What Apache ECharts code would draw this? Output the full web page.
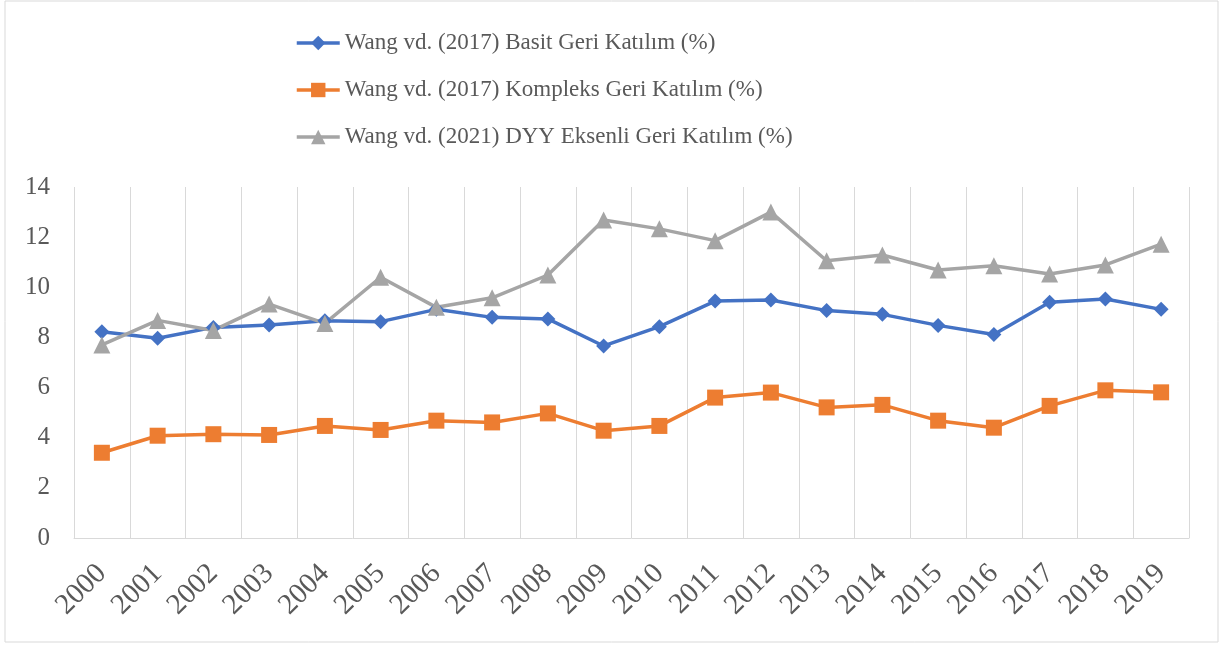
<!DOCTYPE html>
<html>
<head>
<meta charset="utf-8">
<script src="https://cdn.jsdelivr.net/npm/echarts@6/dist/echarts.min.js"></script>
<style>
    html, body {margin: 0; padding: 0; background: #fff;}
    #echart1 {width: 1221px; height: 645px;}
</style>
</head>
<body>
<div id="echart1"></div>
<script>
var years = ['2000', '2001', '2002', '2003', '2004', '2005', '2006', '2007', '2008', '2009',
    '2010', '2011', '2012', '2013', '2014', '2015', '2016', '2017', '2018', '2019'];
var basit = [8.23, 7.97, 8.40, 8.50, 8.67, 8.63, 9.12, 8.80, 8.74, 7.66,
    8.43, 9.45, 9.49, 9.07, 8.92, 8.48, 8.12, 9.40, 9.53, 9.12];
var kompleks = [3.40, 4.08, 4.14, 4.11, 4.47, 4.31, 4.68, 4.61, 4.97, 4.28,
    4.47, 5.60, 5.80, 5.21, 5.31, 4.68, 4.40, 5.27, 5.89, 5.81];
var dyy = [7.70, 8.68, 8.28, 9.33, 8.56, 10.40, 9.20, 9.58, 10.49, 12.68,
    12.33, 11.86, 13.00, 11.06, 11.29, 10.69, 10.86, 10.53, 10.89, 11.72];
var names = ['Wang vd. (2017) Basit Geri Katılım (%)',
    'Wang vd. (2017) Kompleks Geri Katılım (%)',
    'Wang vd. (2021) DYY Eksenli Geri Katılım (%)'];
var colors = ['#4472c4', '#ed7d31', '#a5a5a5'];

echart1();

function echart1() {
    var myChart = echarts.init(document.getElementById('echart1'));    //初始化图表
    var font = 'Liberation Serif';
    var option = {
        animation: false,
        color: colors,
        textStyle: {fontFamily: font},
        graphic: [{
            type: 'rect',
            shape: {x: 5, y: 1, width: 1213, height: 641},
            style: {fill: 'none', stroke: '#d9d9d9', lineWidth: 1},
            silent: true
        }],
        legend: {
            orient: 'vertical',
            left: 290,
            top: 23,
            itemWidth: 43,
            itemHeight: 18,
            itemGap: 17,
            data: names,
            lineStyle: {width: 3.5},   //图例线条粗细
            textStyle: {
                fontFamily: font,
                fontSize: 23,
                color: '#595959',
                lineHeight: 30
            }
        },
        grid: {
            left: 74,
            right: 32,
            top: 187,
            bottom: 107
        },
        xAxis: {
            type: 'category',
            data: years,
            boundaryGap: true,
            axisLine: {lineStyle: {color: '#d9d9d9', width: 1}},
            axisTick: {show: false},
            splitLine: {show: true, lineStyle: {color: '#d9d9d9', width: 1}},
            axisLabel: {
                rotate: 45,
                interval: 0,
                margin: 31,
                fontFamily: font,
                fontSize: 29,
                color: '#595959'
            }
        },
        yAxis: {
            type: 'value',
            min: 0,
            max: 14,
            interval: 2,
            axisLine: {show: false},
            axisTick: {show: false},
            splitLine: {show: false},
            axisLabel: {
                margin: 24,
                fontFamily: font,
                fontSize: 25,
                color: '#595959'
            }
        },
        series: [
            {
                name: names[0],
                type: 'line',
                data: basit,
                symbol: 'diamond',
                symbolSize: 15,
                lineStyle: {width: 3.5}
            },
            {
                name: names[1],
                type: 'line',
                data: kompleks,
                symbol: 'rect',
                symbolSize: 16,
                lineStyle: {width: 3.5}
            },
            {
                name: names[2],
                type: 'line',
                data: dyy,
                symbol: 'triangle',
                symbolSize: 17,
                lineStyle: {width: 3.5}
            }
        ]
    };
    myChart.setOption(option);   //加载数据
}
</script>
</body>
</html>
